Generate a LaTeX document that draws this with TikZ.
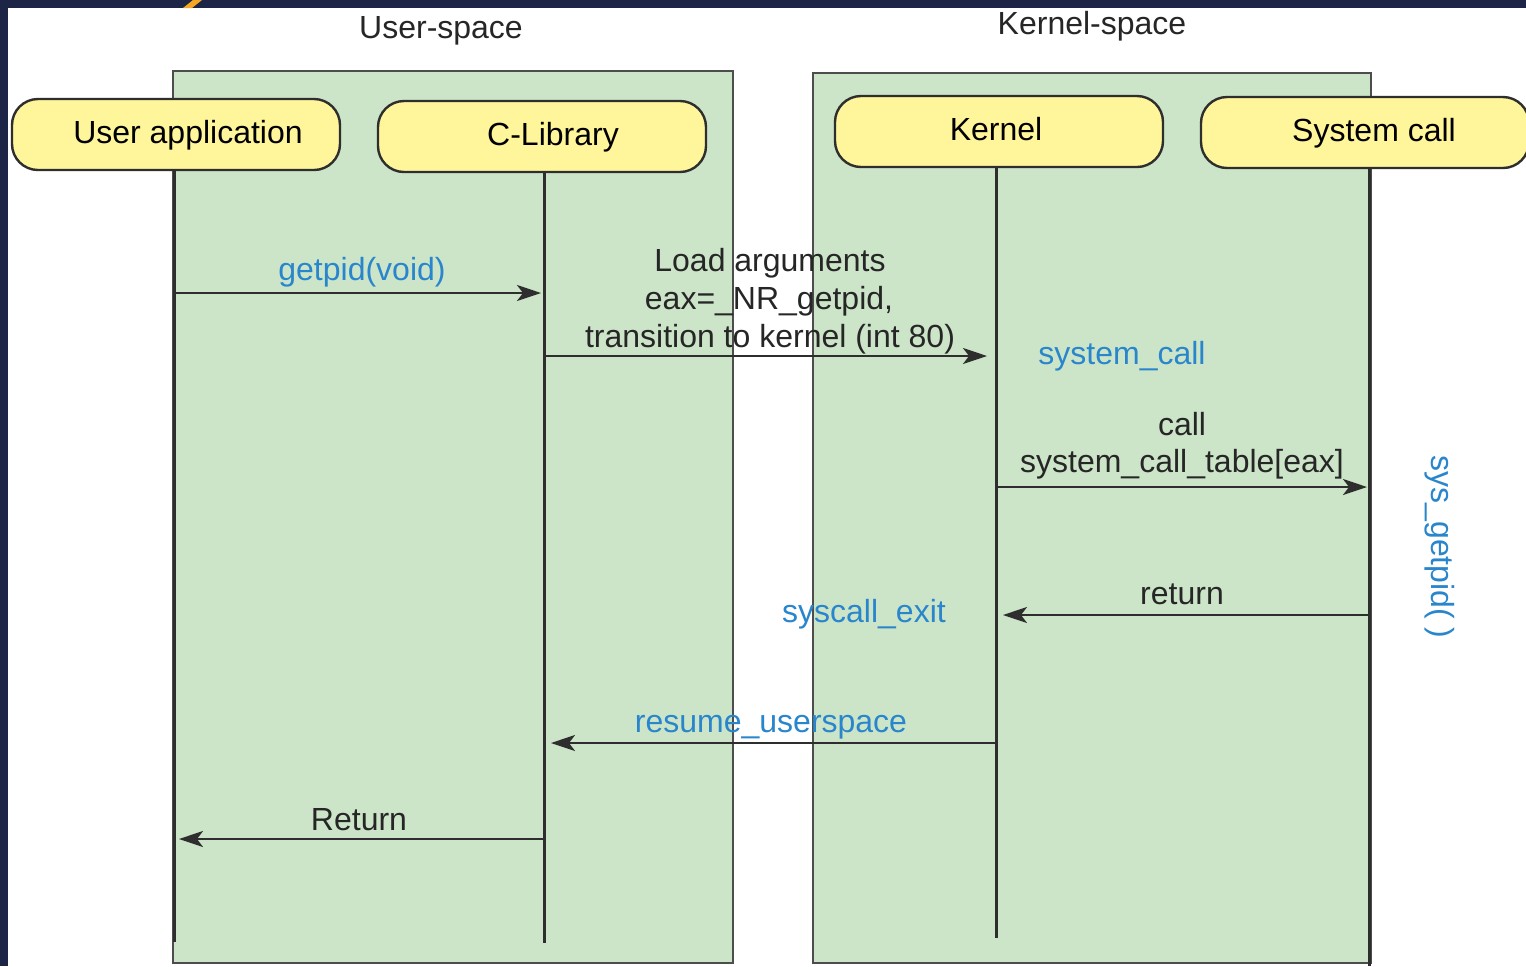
\documentclass[tikz,border=0pt]{standalone}
\usepackage{fontspec}
\setmainfont{Liberation Sans}
\usetikzlibrary{arrows.meta}
\definecolor{panelgreen}{HTML}{CCE5C8}
\definecolor{boxyellow}{HTML}{FFF59A}
\definecolor{labelblue}{HTML}{2A86CC}
\definecolor{frame}{HTML}{1C2546}
\definecolor{accent}{HTML}{F5A623}
\definecolor{edge}{HTML}{2E2E2E}
\begin{document}
\begin{tikzpicture}[x=0.5pt,y=-0.5pt,
  panel/.style={draw=edge!85, line width=1.3pt, fill=panelgreen},
  actor/.style={draw=edge, line width=1.2pt, fill=boxyellow, rounded corners=13pt,
    minimum width=164pt, minimum height=35.5pt, inner sep=0pt,
    text height=12pt, text depth=3.5pt, font=\fontsize{16}{19}\selectfont},
  lifeline/.style={draw=edge, line width=1.5pt},
  msg/.style={draw=edge, line width=1.2pt, -{Stealth[length=12pt,width=8pt,inset=3pt]}},
  lbl/.style={font=\fontsize{16}{19}\selectfont, inner sep=0pt, anchor=base, text=black!85},
  bluelbl/.style={lbl, text=labelblue}
]
% canvas and page frame
\useasboundingbox (0,0) rectangle (1526,966);
\fill[white] (0,0) rectangle (1526,966);
\fill[frame] (0,0) rectangle (1526,8);
\fill[frame] (0,0) rectangle (8,966);
\fill[accent] (183,8) -- (192,8) -- (202,0) -- (193,0) -- cycle;

% the two address spaces
\draw[panel] (173,71) rectangle (733,963);
\draw[panel] (813,73) rectangle (1371,963);
\node[lbl] (us) at (441,38) {User-space};
\node[lbl] (ks) at (1092,34) {Kernel-space};

% participants
\node[actor] (ua) at (176,134.5) {\hspace*{12pt}User application};
\node[actor] (cl) at (542,136.5) {\hspace*{11pt}C-Library};
\node[actor] (kn) at (999,131.5) {Kernel\hspace*{3pt}};
\node[actor] (sc) at (1365,132.5) {\hspace*{9pt}System call};

% lifelines
\coordinate (uaEnd) at (174,942);
\coordinate (clEnd) at (544,943);
\coordinate (knEnd) at (996,938);
\coordinate (scEnd) at (1369,966);
\draw[lifeline] (ua.south -| uaEnd) -- (uaEnd);
\draw[lifeline] (cl.south -| clEnd) -- (clEnd);
\draw[lifeline] (kn.south -| knEnd) -- (knEnd);
\draw[lifeline] (sc.south -| scEnd) -- (scEnd);

% message end points
\coordinate (m1a) at (174,293);  \coordinate (m1b) at (541,293);
\coordinate (m2a) at (544,356);  \coordinate (m2b) at (987,356);
\coordinate (m3a) at (996,487);  \coordinate (m3b) at (1367,487);
\coordinate (m4a) at (1369,615); \coordinate (m4b) at (1003,615);
\coordinate (m5a) at (996,743);  \coordinate (m5b) at (551,743);
\coordinate (m6a) at (544,839);  \coordinate (m6b) at (179,839);

% messages
\draw[msg] (m1a) -- (m1b);
\draw[msg] (m2a) -- (m2b);
\draw[msg] (m3a) -- (m3b);
\draw[msg] (m4a) -- (m4b);
\draw[msg] (m5a) -- (m5b);
\draw[msg] (m6a) -- (m6b);

% message labels
\node[bluelbl] (l1) at (362,280) {getpid(void)};
\node[lbl] (l2a) at (770,271) {Load arguments};
\node[lbl] (l2b) at (769,309) {eax=\_NR\_getpid,};
\node[lbl] (l2c) at (770,347) {transition to kernel (int 80)};
\node[bluelbl] (l2d) at (1122,364) {system\_call};
\node[lbl] (l3a) at (1182,435) {call};
\node[lbl] (l3b) at (1182,472) {system\_call\_table[eax]};
\node[lbl] (l4) at (1182,604) {return};
\node[bluelbl] (l4b) at (864,622) {syscall\_exit};
\node[bluelbl] (l5) at (771,732) {resume\_userspace};
\node[lbl] (l6) at (359,830) {Return};
\node[bluelbl, anchor=center, rotate=-90] (l7) at (1440,547) {sys\_getpid( )};
\end{tikzpicture}
\end{document}
